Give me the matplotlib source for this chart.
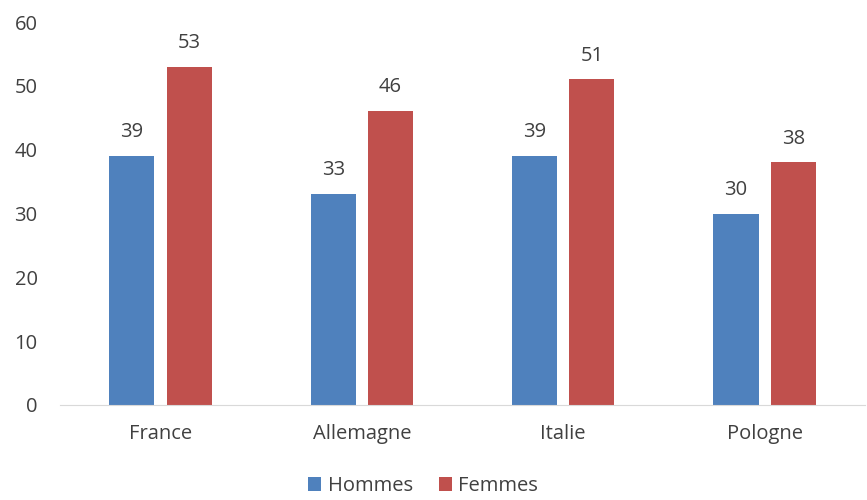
import matplotlib
matplotlib.use("Agg")
import matplotlib.pyplot as plt
import numpy as np

plt.rcParams['font.family'] = ['Open Sans', 'DejaVu Sans']

categories = ["France", "Allemagne", "Italie", "Pologne"]
hommes = [39, 33, 39, 30]
femmes = [53, 46, 51, 38]
yticks = [0, 10, 20, 30, 40, 50, 60]

FS = 14.5
fig = plt.figure(figsize=(8.67, 5.0), dpi=100)
ax = fig.add_axes([0.069, 0.19, 0.929, 0.766])

x = np.arange(len(categories))
w = 0.224
off = 0.142
b1 = ax.bar(x - off, hommes, w, color="#4F81BD", label="Hommes")
b2 = ax.bar(x + off, femmes, w, color="#C0504D", label="Femmes")

for bars, vals in ((b1, hommes), (b2, femmes)):
    for r, v in zip(bars, vals):
        ax.annotate(f"{v}", (r.get_x() + r.get_width() / 2, v), xytext=(0, 10),
                    textcoords="offset points", ha="center", va="bottom",
                    fontsize=FS, color="#404040")

ax.set_xlim(-0.5, 3.5)
ax.set_ylim(0, 60)
ax.set_yticks(yticks)
ax.set_xticks(x)
ax.set_xticklabels(categories)
ax.tick_params(length=0, labelsize=FS, colors="#404040")
ax.tick_params(axis="y", pad=16)
ax.tick_params(axis="x", pad=14)
for s in ["top", "right", "left"]:
    ax.spines[s].set_visible(False)
ax.spines["bottom"].set_color("#D9D9D9")

fig.legend(handles=[b1, b2], loc="lower center", ncol=2, frameon=False,
           fontsize=FS, bbox_to_anchor=(0.488, -0.028), handlelength=0.65,
           handleheight=0.65, columnspacing=1.3, handletextpad=0.3,
           labelcolor="#404040")

fig.savefig("out.png", dpi=100)
